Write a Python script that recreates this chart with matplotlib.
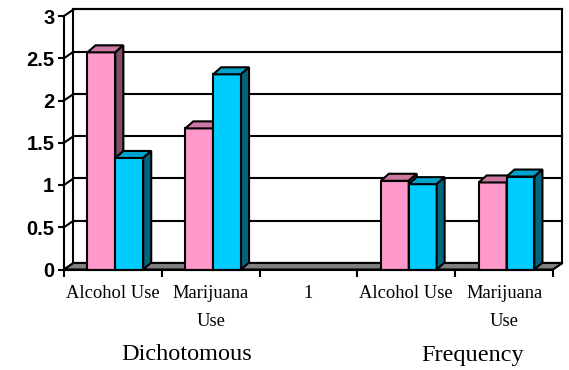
import matplotlib

matplotlib.use("Agg")
import matplotlib.pyplot as plt
import numpy as np

# Category axis, two series per category, plus the group captions under the axis
categories = ["Alcohol Use", "Marijuana\nUse", "1", "Alcohol Use", "Marijuana\nUse"]
pink_values = [2.57, 1.67, np.nan, 1.05, 1.03]
blue_values = [1.32, 2.31, np.nan, 1.01, 1.10]
group_labels = ["Dichotomous", "Frequency"]
y_ticks = [0, 0.5, 1, 1.5, 2, 2.5, 3]
y_ticklabels = ["0", "0.5", "1", "1.5", "2", "2.5", "3"]

# face / top / side shades for the pseudo-3D columns
PINK = ("#FF99CC", "#CC7AA3", "#804C66")
BLUE = ("#00CCFF", "#00A3CC", "#006680")

WALL_DX, WALL_DY = 0.097, 0.077   # back-wall offset, data units
BAR_DX, BAR_DY = 0.082, 0.083     # column depth, data units
BAR_START, BAR_W = 0.24, 0.285
LW = 1.5

fig = plt.figure(figsize=(5.69, 3.70), dpi=100)
ax = fig.add_axes((64 / 569, 100.5 / 370, 489 / 569, 253.5 / 370))
n = len(categories)
ymax = y_ticks[-1]
ax.set_xlim(0, n)
ax.set_ylim(0, ymax)
ax.patch.set_visible(False)

# back wall with gridlines
ax.fill([WALL_DX, n + WALL_DX, n + WALL_DX, WALL_DX],
        [WALL_DY, WALL_DY, ymax + WALL_DY, ymax + WALL_DY],
        facecolor="white", edgecolor="black", lw=LW, clip_on=False, zorder=1)
for v in y_ticks:
    ax.plot([WALL_DX, n + WALL_DX], [v + WALL_DY] * 2, color="black", lw=LW,
            clip_on=False, zorder=1.1)
    ax.plot([0, WALL_DX], [v, v + WALL_DY], color="black", lw=LW,
            clip_on=False, zorder=1.1)

# floor
ax.fill([0, n, n + WALL_DX, WALL_DX], [0, 0, WALL_DY, WALL_DY],
        facecolor="#808080", edgecolor="black", lw=LW, clip_on=False, zorder=1.2)


def draw_column(x0, h, shades, z):
    face, top, side = shades
    x1 = x0 + BAR_W
    kw = dict(edgecolor="black", lw=LW, joinstyle="miter", clip_on=False, zorder=z)
    ax.fill([x0, x1, x1, x0], [0, 0, h, h], facecolor=face, **kw)
    ax.fill([x0, x1, x1 + BAR_DX, x0 + BAR_DX], [h, h, h + BAR_DY, h + BAR_DY],
            facecolor=top, **kw)
    ax.fill([x1, x1 + BAR_DX, x1 + BAR_DX, x1], [0, BAR_DY, h + BAR_DY, h],
            facecolor=side, **kw)


z = 2
for i, (a, b) in enumerate(zip(pink_values, blue_values)):
    if not np.isnan(a):
        draw_column(i + BAR_START, a, PINK, z)
        z += 0.1
    if not np.isnan(b):
        draw_column(i + BAR_START + BAR_W, b, BLUE, z)
        z += 0.1

# front axes
for side in ("top", "right"):
    ax.spines[side].set_visible(False)
for side in ("left", "bottom"):
    ax.spines[side].set_linewidth(LW)
    ax.spines[side].set_zorder(5)

ax.set_yticks(y_ticks, labels=y_ticklabels)
ax.tick_params(axis="y", length=4, width=LW, pad=3)
for t in ax.get_yticklabels():
    t.set_fontfamily("Liberation Sans")
    t.set_fontweight("bold")
    t.set_fontsize(14.5)

ax.set_xticks(np.arange(n + 1), labels=[""] * (n + 1))
ax.set_xticks(np.arange(n) + 0.5, labels=categories, minor=True)
ax.tick_params(axis="x", which="major", length=5, width=LW)
ax.tick_params(axis="x", which="minor", length=0, pad=11)
for t in ax.get_xticklabels(minor=True):
    t.set_fontfamily("Liberation Serif")
    t.set_fontsize(13.3)
    t.set_linespacing(1.85)

for label, xpix in zip(group_labels, (187, 473)):
    fig.text(xpix / 569, 1 - 355 / 370, label, ha="center", va="center",
             family="Liberation Serif", fontsize=17.5)

fig.savefig("out.png", dpi=100, facecolor="white")
